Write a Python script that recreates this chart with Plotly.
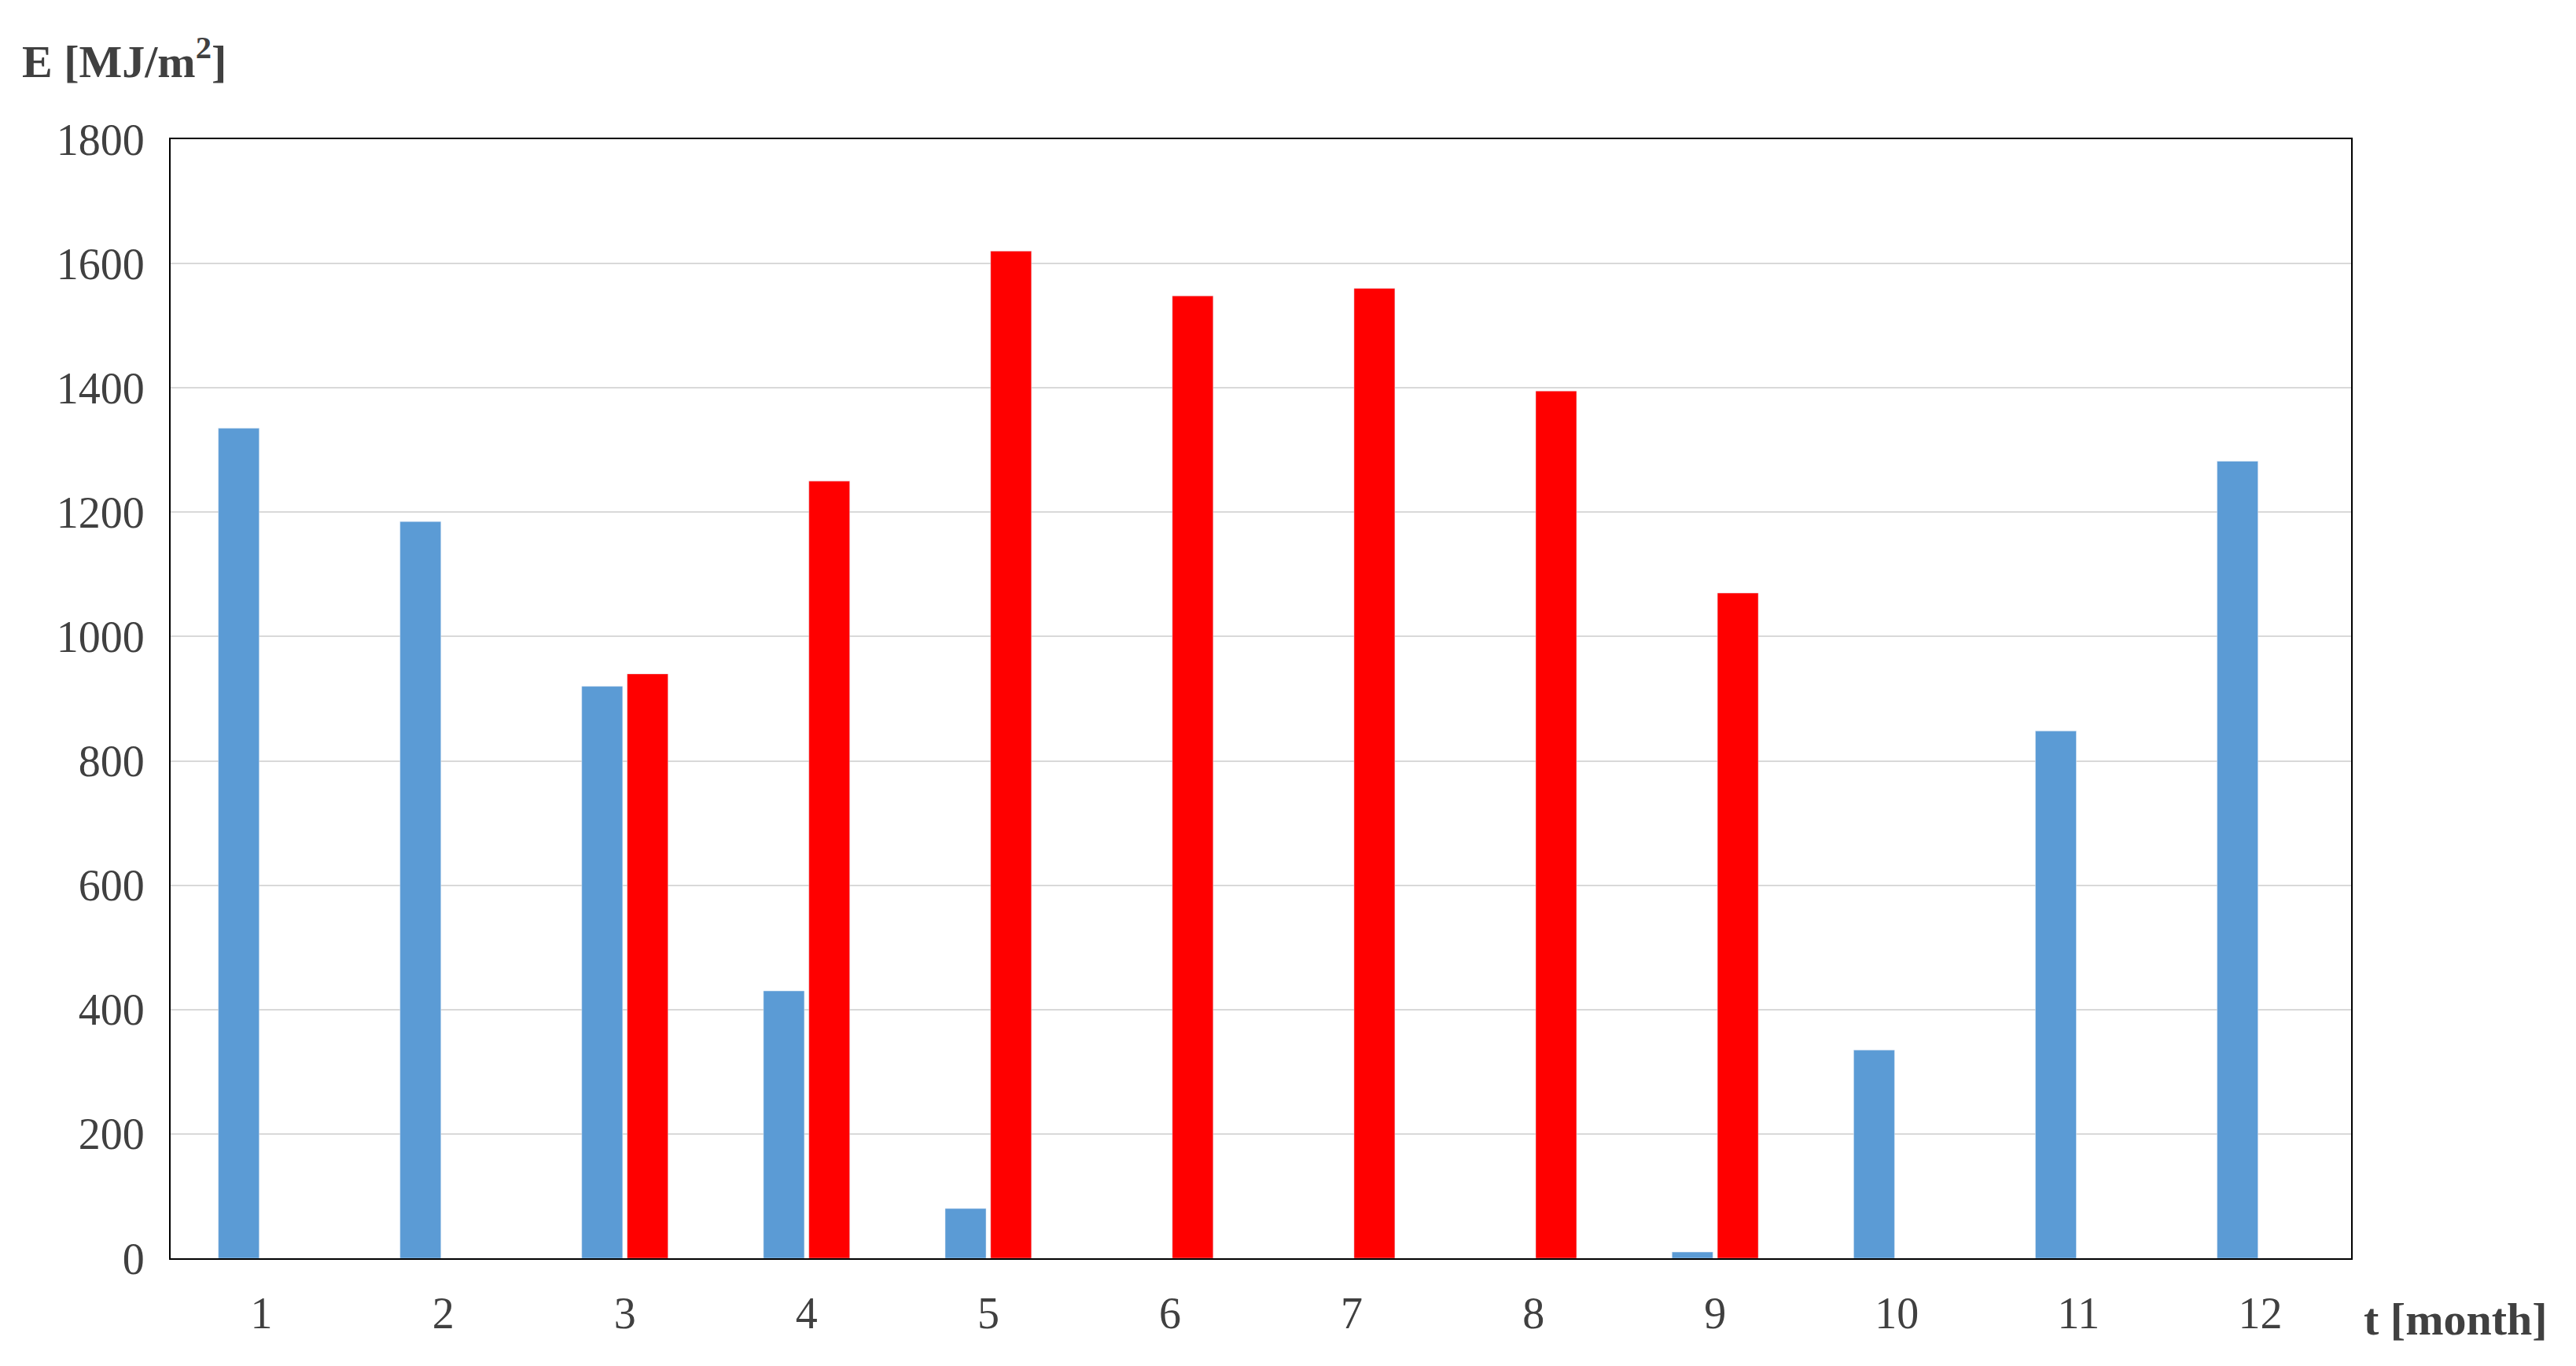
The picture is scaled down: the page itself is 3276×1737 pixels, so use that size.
import plotly.graph_objects as go

months = [str(m) for m in range(1, 13)]
blue_vals = [1335, 1185, 920, 430, 80, 0, 0, 0, 10, 335, 848, 1282]
red_vals = [0, 0, 940, 1250, 1620, 1548, 1560, 1395, 1070, 0, 0, 0]

font = dict(family="Liberation Serif", size=56, color="#404040")

fig = go.Figure()
fig.add_trace(go.Bar(x=months, y=blue_vals, marker_color="#5b9bd5"))
fig.add_trace(go.Bar(x=months, y=red_vals, marker_color="#ff0000"))

fig.update_layout(
    width=3276, height=1737,
    paper_bgcolor="white", plot_bgcolor="white",
    showlegend=False, barmode="group", bargap=0.5, bargroupgap=0.1,
    margin=dict(l=209, r=294, t=169, b=145),
    font=font,
)
fig.update_xaxes(showline=True, linecolor="black", linewidth=2, mirror=True,
                 ticks="", tickfont=font, ticklabelstandoff=20)
fig.update_yaxes(range=[0, 1800], dtick=200, showline=True, linecolor="black",
                 linewidth=2, mirror=True, gridcolor="#d9d9d9", gridwidth=2,
                 tickfont=font, ticklabelstandoff=20, zeroline=False)

bold = dict(family="Liberation Serif", size=58, color="#404040")
fig.add_annotation(text="<b>E [MJ/m<sup>2</sup>]</b>", xref="paper", yref="paper",
                   x=-0.069, y=1.045, xanchor="left", yanchor="bottom",
                   showarrow=False, font=bold)
fig.add_annotation(text="<b>t [month]</b>", xref="paper", yref="paper",
                   x=1.005, y=-0.03, xanchor="left", yanchor="top",
                   showarrow=False, font=bold)

fig.write_html("out.html")
